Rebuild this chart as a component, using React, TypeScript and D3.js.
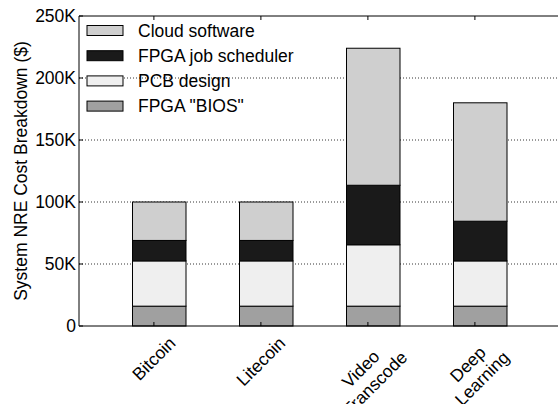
import React, { useLayoutEffect, useRef } from "react";
import * as d3 from "d3";

const categories = ["Bitcoin", "Litecoin", "Video\nTranscode", "Deep\nLearning"];
const seriesNames = ["FPGA \"BIOS\"", "PCB design", "FPGA job scheduler", "Cloud software"];
const biosCost = [16000, 16000, 16000, 16000];
const pcbCost = [36500, 36500, 49500, 36500];
const schedulerCost = [16500, 16500, 48000, 32000];
const cloudCost = [31000, 31000, 110500, 95500];
const seriesColors = ["#a0a0a0", "#efefef", "#1a1a1a", "#cfcfcf"];
const yTicks = [0, 50000, 100000, 150000, 200000, 250000];
const yTickLabels = ["0", "50K", "100K", "150K", "200K", "250K"];
const gridTicks = [50000, 100000, 150000, 200000];

const W = 558;
const H = 404;
const FONT = "'Liberation Sans', Arial, Helvetica, sans-serif";
const FS = 17.5;

function RotLabel({ x, y, text }: { x: number; y: number; text: string }) {
  const inner = useRef<SVGGElement>(null);
  const outer = useRef<SVGGElement>(null);
  useLayoutEffect(() => {
    if (!inner.current || !outer.current) return;
    const b = inner.current.getBBox();
    // bbox of rotated group in its parent coords: compute corners
    const a = (-45 * Math.PI) / 180;
    const pts = [
      [b.x, b.y],
      [b.x + b.width, b.y],
      [b.x, b.y + b.height],
      [b.x + b.width, b.y + b.height],
    ].map(([px, py]) => [px * Math.cos(a) - py * Math.sin(a), px * Math.sin(a) + py * Math.cos(a)]);
    const xs = pts.map((p) => p[0]);
    const ys = pts.map((p) => p[1]);
    const cx = (Math.min(...xs) + Math.max(...xs)) / 2;
    const top = Math.min(...ys);
    outer.current.setAttribute("transform", `translate(${x - cx},${y - top})`);
  }, [x, y, text]);
  const lines = text.split("\n");
  return (
    <g ref={outer} transform={`translate(${x},${y})`}>
      <g ref={inner} transform="rotate(-45)">
        <text textAnchor="middle" fontFamily={FONT} fontSize={FS} fill="#000">
          {lines.map((l, i) => (
            <tspan key={i} x={0} dy={i === 0 ? 0 : FS * 1.15}>
              {l}
            </tspan>
          ))}
        </text>
      </g>
    </g>
  );
}

export default function App() {
  const left = 79;
  const top = 16;
  const bottom = 326;
  const right = 560.5;

  const x = d3.scaleLinear().domain([-0.7, 3.8]).range([left, right]);
  const y = d3.scaleLinear().domain([0, 250000]).range([bottom, top]);

  const table = categories.map((c, i) => ({
    cat: c,
    v0: biosCost[i],
    v1: pcbCost[i],
    v2: schedulerCost[i],
    v3: cloudCost[i],
  }));
  const stack = d3.stack<any>().keys(["v0", "v1", "v2", "v3"])(table);

  const barLeft = -0.2;
  const barWidth = 0.5;

  const legendOrder = [3, 2, 1, 0];

  return (
    <svg width={W} height={H} style={{ position: "absolute", left: 0, top: 0, background: "#fff" }}>
      <rect x={0} y={0} width={W} height={H} fill="#fff" />
      {/* grid */}
      {gridTicks.map((t) => (
        <line key={t} x1={left} x2={right} y1={y(t)} y2={y(t)} stroke="#000" strokeWidth={0.8} strokeDasharray="1,2" />
      ))}
      {/* bars */}
      {stack.map((s, si) =>
        s.map((d, i) => (
          <rect
            key={`${si}-${i}`}
            x={x(i + barLeft)}
            y={y(d[1])}
            width={x(i + barLeft + barWidth) - x(i + barLeft)}
            height={y(d[0]) - y(d[1])}
            fill={seriesColors[si]}
            stroke="#000"
            strokeWidth={1}
          />
        ))
      )}
      {/* spines */}
      <line x1={left} x2={right} y1={top} y2={top} stroke="#000" strokeWidth={1} />
      <line x1={left} x2={right} y1={bottom} y2={bottom} stroke="#000" strokeWidth={1} />
      <line x1={left} x2={left} y1={top} y2={bottom} stroke="#000" strokeWidth={1} />
      {/* y ticks */}
      {yTicks.map((t, i) => (
        <g key={t}>
          <line x1={left} x2={left + 4} y1={y(t)} y2={y(t)} stroke="#000" strokeWidth={1} />
          <text x={left - 3} y={y(t)} dy="0.36em" textAnchor="end" fontFamily={FONT} fontSize={FS} fill="#000">
            {yTickLabels[i]}
          </text>
        </g>
      ))}
      {/* x ticks */}
      {categories.map((c, i) => (
        <g key={c}>
          <line x1={x(i)} x2={x(i)} y1={top} y2={top + 4} stroke="#000" strokeWidth={1} />
          <line x1={x(i)} x2={x(i)} y1={bottom} y2={bottom - 4} stroke="#000" strokeWidth={1} />
          <RotLabel x={x(i)} y={bottom + 7} text={c} />
        </g>
      ))}
      {/* y label */}
      <text
        transform={`translate(${27},${(top + bottom) / 2}) rotate(-90)`}
        textAnchor="middle"
        fontFamily={FONT}
        fontSize={FS}
        fill="#000"
      >
        System NRE Cost Breakdown ($)
      </text>
      {/* legend */}
      {legendOrder.map((si, k) => {
        const cy = 30.5 + k * 25.2;
        return (
          <g key={si}>
            <rect x={87} y={cy - 5} width={36} height={10} fill={seriesColors[si]} stroke="#000" strokeWidth={1} />
            <text x={138} y={cy} dy="0.36em" fontFamily={FONT} fontSize={FS} fill="#000">
              {seriesNames[si]}
            </text>
          </g>
        );
      })}
    </svg>
  );
}
